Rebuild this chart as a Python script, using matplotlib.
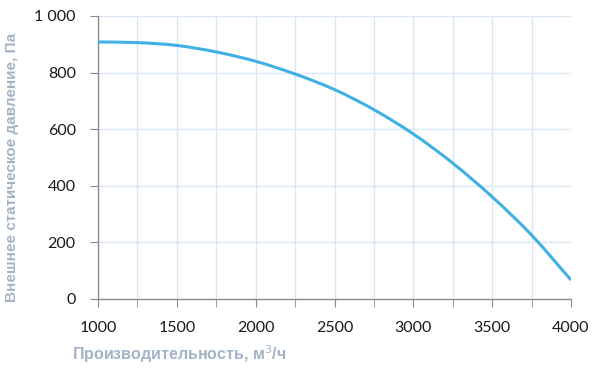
import matplotlib
matplotlib.use("Agg")
import matplotlib.pyplot as plt
from matplotlib.ticker import MultipleLocator, FuncFormatter
from matplotlib.path import Path
from matplotlib.patches import PathPatch

flow = [1000, 1250, 1500, 1750, 2000, 2250, 2500, 2750, 3000, 3250, 3500, 3750, 4000]
pressure = [908, 906, 896, 873, 840, 795, 740, 669, 583, 480, 361, 226, 67]

x_label = "Производительность, м$^3$/ч"
y_label = "Внешнее статическое давление, Па"

fig = plt.figure(figsize=(6.0, 3.73), dpi=100)
ax = fig.add_axes([98/600, 74/373, 473/600, 283/373])

# smoothed line (Catmull-Rom → cubic Bezier) through the data points, like a spreadsheet "smooth line"
verts = [(flow[0], pressure[0])]
codes = [Path.MOVETO]
n = len(flow)
for i in range(n - 1):
    p0 = (flow[max(i - 1, 0)], pressure[max(i - 1, 0)])
    p1 = (flow[i], pressure[i])
    p2 = (flow[i + 1], pressure[i + 1])
    p3 = (flow[min(i + 2, n - 1)], pressure[min(i + 2, n - 1)])
    c1 = (p1[0] + (p2[0] - p0[0]) / 6, p1[1] + (p2[1] - p0[1]) / 6)
    c2 = (p2[0] - (p3[0] - p1[0]) / 6, p2[1] - (p3[1] - p1[1]) / 6)
    verts += [c1, c2, p2]
    codes += [Path.CURVE4] * 3
ax.add_patch(PathPatch(Path(verts, codes), facecolor="none", edgecolor="#41b0e4",
                       lw=2.2, zorder=3, capstyle="butt"))

ax.set_xlim(1000, 4000)
ax.set_ylim(0, 1000)
ax.xaxis.set_major_locator(MultipleLocator(500))
ax.xaxis.set_minor_locator(MultipleLocator(250))
ax.yaxis.set_major_locator(MultipleLocator(200))
ax.yaxis.set_major_formatter(FuncFormatter(lambda v, p: "1 000" if v == 1000 else f"{int(v)}"))

ax.grid(True, which="both", axis="x", color="#dbe7f4", lw=1.0)
ax.grid(True, which="major", axis="y", color="#dbe7f4", lw=1.0)
ax.set_axisbelow(True)

for s in ["top", "right"]:
    ax.spines[s].set_visible(False)
for s in ["left", "bottom"]:
    ax.spines[s].set_color("#8c8c8c")
    ax.spines[s].set_linewidth(1.0)

ax.tick_params(axis="x", which="both", direction="out", length=6, color="#8c8c8c", pad=10,
               labelsize=11.5, labelcolor="#1a1a1a")
ax.tick_params(axis="y", which="major", direction="out", length=6, color="#8c8c8c", pad=10,
               labelsize=11.5, labelcolor="#1a1a1a")
for lab in ax.get_xticklabels() + ax.get_yticklabels():
    lab.set_family(["Lato", "DejaVu Sans"])

fig.text(72/600, 1 - 354/373, x_label, ha="left", va="center", fontsize=11.5,
         fontweight="bold", color="#a3b3c6", family=["Liberation Sans", "DejaVu Sans"])
fig.text(12/600, 1 - 167/373, y_label, ha="center", va="center", rotation=90, fontsize=11,
         fontweight="bold", color="#a3b3c6", family=["Liberation Sans", "DejaVu Sans"])

fig.savefig("out.png", dpi=100)
